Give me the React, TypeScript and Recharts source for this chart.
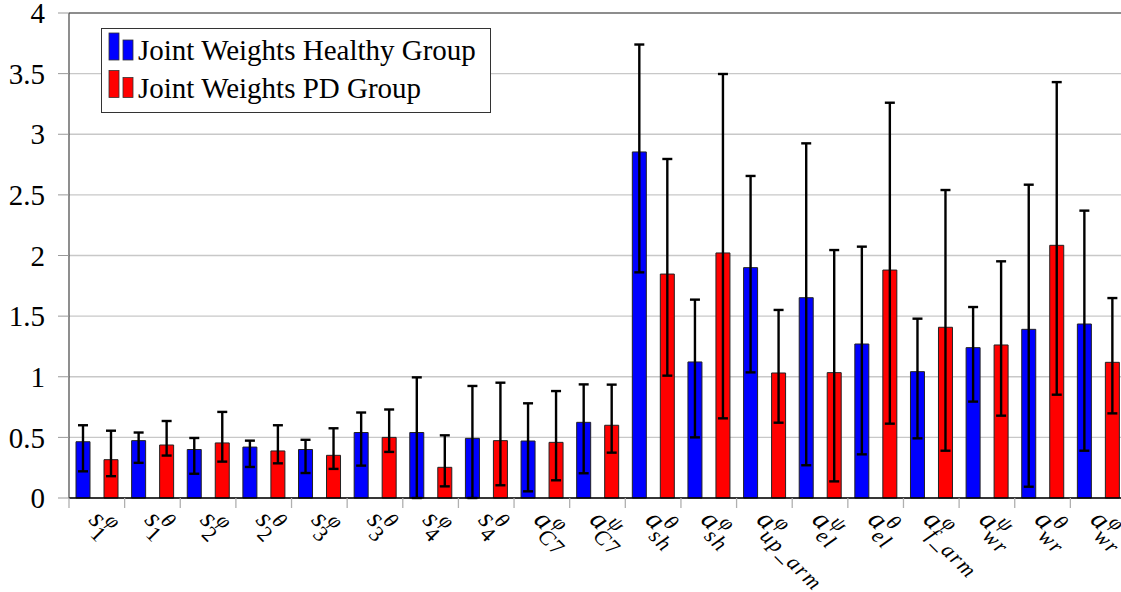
import { BarChart, Bar, XAxis, YAxis, CartesianGrid, ErrorBar, Legend, ReferenceLine } from 'recharts';

const SERIF = '"Liberation Serif", "Times New Roman", serif';

// joint labels: symbol, subscript, superscript
const LABEL_BASE = ['s', 's', 's', 's', 's', 's', 's', 's', 'a', 'a', 'a', 'a', 'a', 'a', 'a', 'a', 'a', 'a', 'a'];
const LABEL_SUB = ['1', '1', '2', '2', '3', '3', '4', '4', 'C7', 'C7', 'sh', 'sh', 'up_arm', 'el', 'el', 'f_arm', 'wr', 'wr', 'wr'];
const LABEL_SUP = ['φ', 'θ', 'φ', 'θ', 'φ', 'θ', 'φ', 'θ', 'φ', 'ψ', 'θ', 'φ', 'φ', 'ψ', 'θ', 'φ', 'ψ', 'θ', 'φ'];

// healthy group: mean weight, lower and upper end of the error bar
const HEALTHY_MEAN = [0.464, 0.473, 0.4, 0.42, 0.4, 0.54, 0.54, 0.492, 0.47, 0.624, 2.854, 1.122, 1.9, 1.652, 1.27, 1.042, 1.24, 1.391, 1.435];
const HEALTHY_LOW = [0.22, 0.29, 0.2, 0.256, 0.206, 0.267, 0.0, 0.0, 0.055, 0.204, 1.861, 0.5, 1.036, 0.27, 0.36, 0.492, 0.795, 0.093, 0.39];
const HEALTHY_HIGH = [0.6, 0.54, 0.495, 0.473, 0.48, 0.705, 0.995, 0.924, 0.781, 0.937, 3.74, 1.636, 2.656, 2.925, 2.073, 1.479, 1.575, 2.584, 2.37];

// PD group
const PD_MEAN = [0.316, 0.437, 0.454, 0.388, 0.352, 0.5, 0.253, 0.473, 0.459, 0.6, 1.847, 2.021, 1.031, 1.034, 1.88, 1.408, 1.262, 2.084, 1.119];
const PD_LOW = [0.18, 0.35, 0.3, 0.286, 0.24, 0.38, 0.096, 0.105, 0.146, 0.374, 1.009, 0.657, 0.621, 0.137, 0.613, 0.39, 0.679, 0.852, 0.698];
const PD_HIGH = [0.555, 0.635, 0.71, 0.6, 0.575, 0.73, 0.517, 0.951, 0.882, 0.935, 2.796, 3.497, 1.551, 2.045, 3.26, 2.54, 1.952, 3.43, 1.649];

const Y_TICKS = [0, 0.5, 1, 1.5, 2, 2.5, 3, 3.5, 4];

const CHART_W = 1126;
const CHART_H = 592;
const PLOT_LEFT = 69;
const BAND = (CHART_W - PLOT_LEFT) / LABEL_BASE.length;

const data = LABEL_BASE.map((base, i) => ({
  joint: `${base}_${LABEL_SUB[i]}^${LABEL_SUP[i]}`,
  healthy: HEALTHY_MEAN[i],
  healthyErr: [HEALTHY_MEAN[i] - HEALTHY_LOW[i], HEALTHY_HIGH[i] - HEALTHY_MEAN[i]],
  pd: PD_MEAN[i],
  pdErr: [PD_MEAN[i] - PD_LOW[i], PD_HIGH[i] - PD_MEAN[i]],
}));

// digits upright, letters italic, like math mode
function scriptRuns(s: string) {
  const parts = s.match(/\d+|\D+/g) || [];
  return parts.map((p, k) => (
    <tspan key={k} style={{ fontStyle: /\d/.test(p) ? 'normal' : 'italic' }}>{p}</tspan>
  ));
}

function JointTick(props: any) {
  const { x, y, payload } = props;
  const i = props.index ?? payload.index;
  const base = LABEL_BASE[i];
  const bw = base === 's' ? 11 : 14;
  return (
    <g>
      <line x1={x - BAND / 2} x2={x - BAND / 2} y1={y} y2={y + 10} stroke="#b0b0b0" strokeWidth={1.3} />
      <g transform={`translate(${x - 9},${y + 23}) rotate(45)`}>
        <text x={0} y={0} fill="#000" style={{ fontFamily: SERIF, fontSize: 28, fontStyle: 'italic' }}>{base}</text>
        <text x={bw} y={9} fill="#000" style={{ fontFamily: SERIF, fontSize: 22, letterSpacing: 1.5 }}>{scriptRuns(LABEL_SUB[i])}</text>
        <text x={bw + 1} y={-11} fill="#000" style={{ fontFamily: SERIF, fontSize: 21, fontStyle: 'italic' }}>{LABEL_SUP[i]}</text>
      </g>
    </g>
  );
}

function ValueTick(props: any) {
  const { x, y, payload } = props;
  return (
    <text x={x} y={y} dy="0.35em" textAnchor="end" fill="#000" style={{ fontFamily: SERIF, fontSize: 29 }}>
      {payload.value}
    </text>
  );
}

function LegendBox({ payload }: any) {
  return (
    <svg width={390} height={86}>
      <rect x={0.5} y={0.5} width={389} height={84} fill="#fff" stroke="#333" strokeWidth={1} />
      {(payload || []).map((p: any, i: number) => {
        const by = 32 + i * 37.5;
        return (
          <g key={p.value}>
            <rect x={8} y={by - 27} width={10} height={27} fill={p.color} stroke="#333" strokeWidth={0.8} />
            <rect x={22} y={by - 20} width={10} height={20} fill={p.color} stroke="#333" strokeWidth={0.8} />
            <text x={37} y={by} fill="#000" style={{ fontFamily: SERIF, fontSize: 29 }}>{p.value}</text>
          </g>
        );
      })}
    </svg>
  );
}

export default function App() {
  return (
    <div style={{ position: 'absolute', left: 0, top: 0, width: 1121, height: CHART_H, overflow: 'hidden', background: '#fff' }}>
      <BarChart
        width={CHART_W}
        height={CHART_H}
        data={data}
        margin={{ top: 13, right: 0, left: 0, bottom: 14 }}
        barSize={14}
        barGap={14}
      >
        <CartesianGrid horizontal vertical={false} stroke="#c8c8c8" strokeWidth={1.3} />
        <ReferenceLine y={4} stroke="#444" strokeWidth={1.2} />
        <XAxis
          dataKey="joint"
          interval={0}
          height={80}
          tickSize={0}
          tickMargin={0}
          tickLine={false}
          axisLine={{ stroke: '#000', strokeWidth: 1.3 }}
          tick={<JointTick />}
        />
        <YAxis
          width={PLOT_LEFT}
          domain={[0, 4]}
          ticks={Y_TICKS}
          tickSize={11}
          tickMargin={13}
          tickLine={{ stroke: '#999' }}
          axisLine={{ stroke: '#444', strokeWidth: 1.2 }}
          tick={<ValueTick />}
        />
        <Legend
          layout="vertical"
          align="center"
          verticalAlign="middle"
          content={<LegendBox />}
          wrapperStyle={{ left: 101, top: 28, width: 390, height: 86 }}
        />
        <Bar dataKey="healthy" name="Joint Weights Healthy Group" fill="#0000ff" stroke="#222" strokeWidth={1} isAnimationActive={false}>
          <ErrorBar dataKey="healthyErr" direction="y" width={5} stroke="#000" strokeWidth={2.4} isAnimationActive={false} />
        </Bar>
        <Bar dataKey="pd" name="Joint Weights PD Group" fill="#ff0000" stroke="#222" strokeWidth={1} isAnimationActive={false}>
          <ErrorBar dataKey="pdErr" direction="y" width={5} stroke="#000" strokeWidth={2.4} isAnimationActive={false} />
        </Bar>
      </BarChart>
    </div>
  );
}
